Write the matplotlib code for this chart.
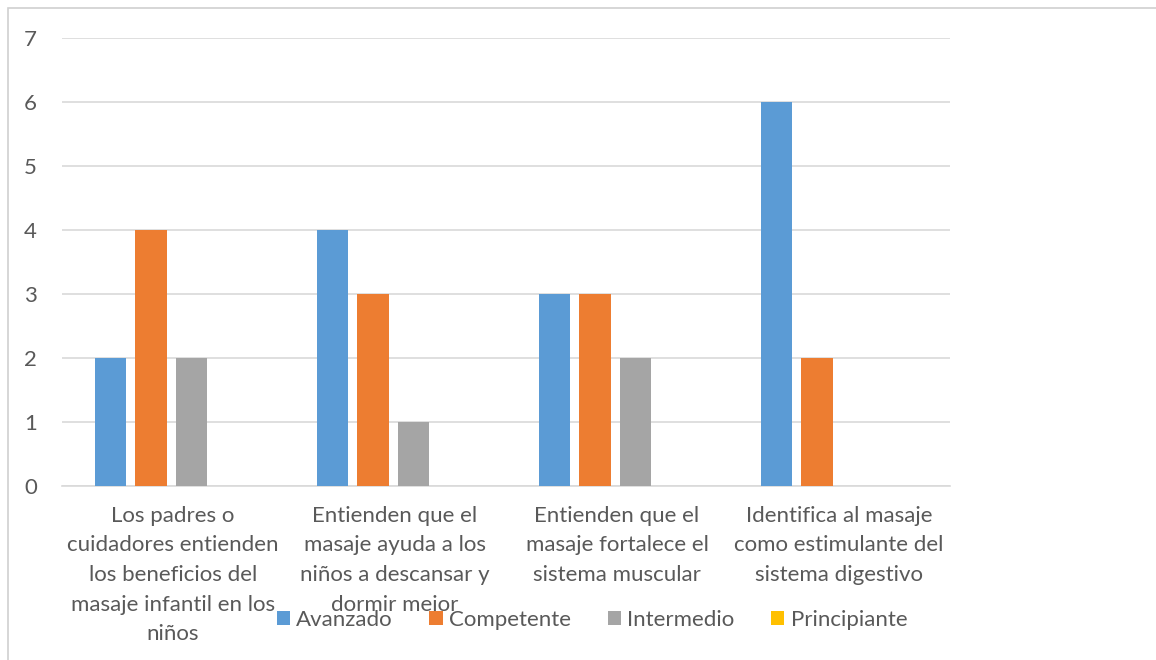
import matplotlib
matplotlib.use('Agg')
import matplotlib.pyplot as plt
import numpy as np
from matplotlib.patches import Rectangle

categorias = ['Los padres o\ncuidadores entienden\nlos beneficios del\nmasaje infantil en los\nniños',
              'Entienden que el\nmasaje ayuda a los\nniños a descansar y\ndormir mejor',
              'Entienden que el\nmasaje fortalece el\nsistema muscular',
              'Identifica al masaje\ncomo estimulante del\nsistema digestivo']
series = ['Avanzado', 'Competente', 'Intermedio', 'Principiante']
avanzado = [2, 4, 3, 6]
competente = [4, 3, 3, 2]
intermedio = [2, 1, 2, 0]
principiante = [0, 0, 0, 0]
colores = ['#5B9BD5', '#ED7D31', '#A5A5A5', '#FFC000']

plt.rcParams['font.family'] = ['Lato', 'DejaVu Sans']
txt = '#595959'

fig = plt.figure(figsize=(11.56, 6.6), dpi=100)
ax = fig.add_axes([62/1156, (660-486)/660, 888/1156, 448/660])

x = np.arange(len(categorias))
w = 0.141
paso = 0.1815
valores = [avanzado, competente, intermedio, principiante]
handles = []
for i, (nom, vals, c) in enumerate(zip(series, valores, colores)):
    b = ax.bar(x + (i - 1.5)*paso - 0.008, vals, w, color=c, label=nom, zorder=3)
    handles.append(b)

ax.set_xlim(-0.5, 3.5)
ax.set_ylim(0, 7)
ax.set_yticks(range(8))
ax.yaxis.grid(True, color='#D9D9D9', linewidth=1.2, zorder=0)
for s in ['top', 'right', 'left']:
    ax.spines[s].set_visible(False)
ax.spines['bottom'].set_color('#D9D9D9')
ax.spines['bottom'].set_linewidth(1.2)
ax.tick_params(axis='y', length=0, pad=18, labelsize=16, labelcolor=txt)
ax.tick_params(axis='x', length=0)
ax.set_xticks(x)
ax.set_xticklabels([])
for xi, lab in zip(x, categorias):
    ax.text(xi, -0.31, lab, ha='center', va='top', fontsize=16, color=txt,
            linespacing=1.6, transform=ax.transData, clip_on=False)

leg = fig.legend(handles=handles, labels=series, loc='center', bbox_to_anchor=(0.512, 1-620/660),
                 ncol=4, frameon=False, fontsize=16, handlelength=0.6, handleheight=0.6,
                 handletextpad=0.28, columnspacing=1.65, labelcolor=txt)

# borde del gráfico
fig.patches.append(Rectangle((8/1156, -0.1), 1.2, 1-8/660+0.1, transform=fig.transFigure,
                             fill=False, edgecolor='#D0D0D0', linewidth=1.2))

fig.savefig('out.png', dpi=100)
